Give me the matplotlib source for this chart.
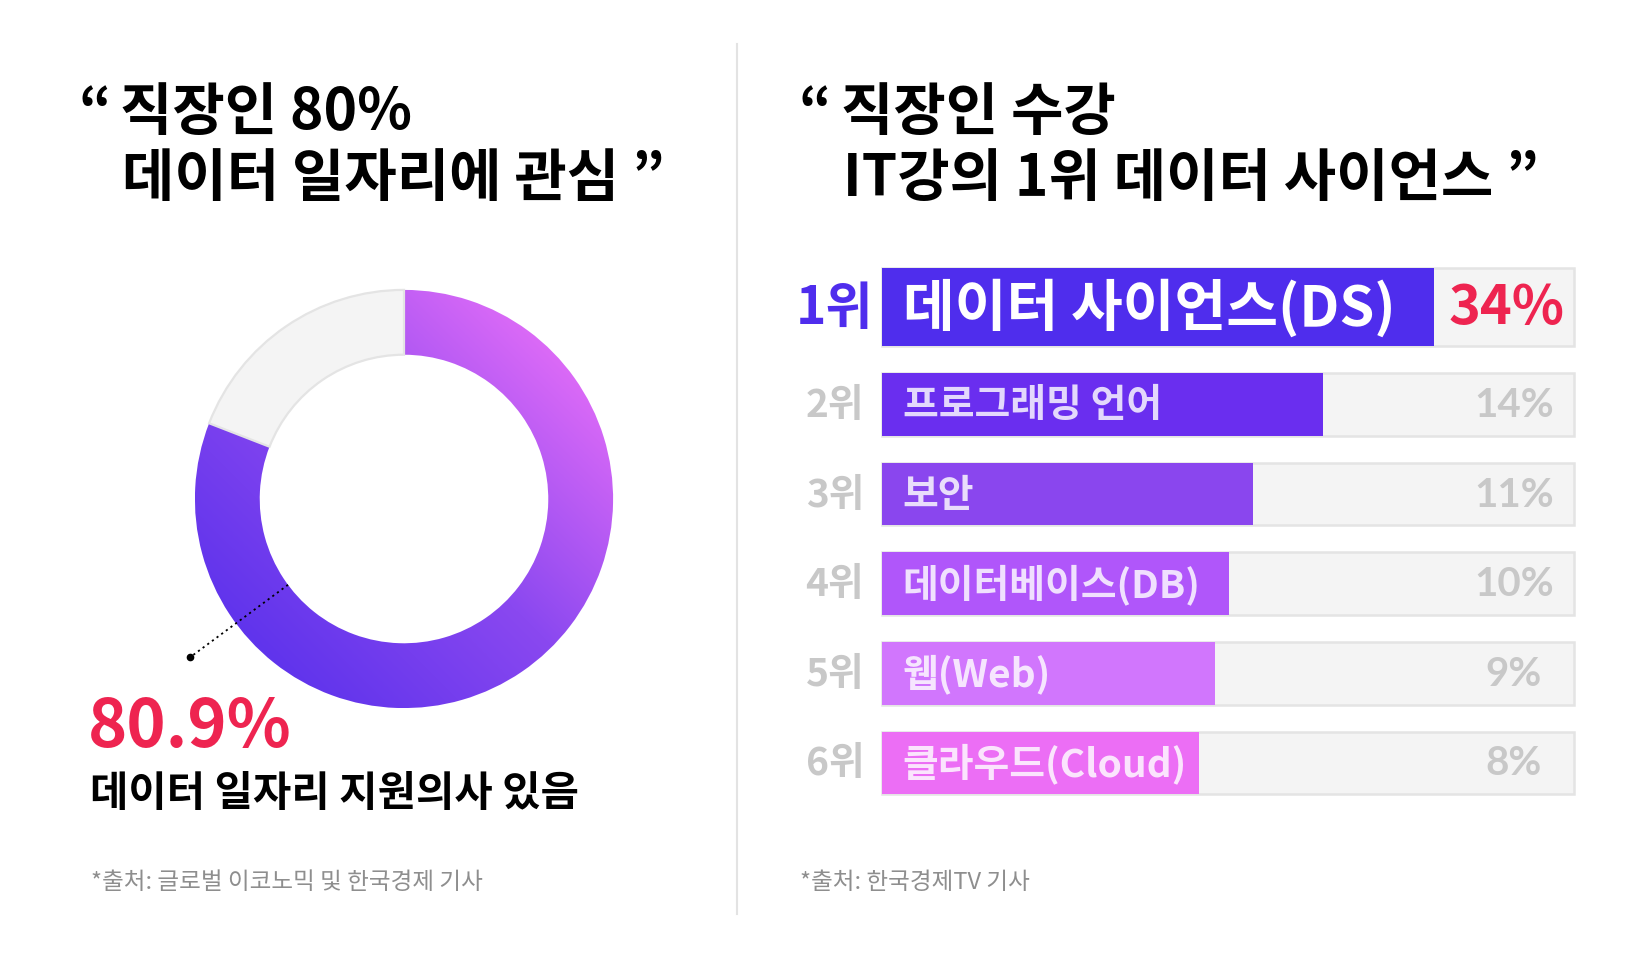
import numpy as np
import matplotlib.pyplot as plt
from matplotlib.colors import LinearSegmentedColormap
from matplotlib.lines import Line2D

plt.rcParams['font.family'] = ['Noto Sans CJK KR', 'DejaVu Sans']

# left panel: survey result
donut_vals = [80.9, 19.1]
donut_pct = '80.9%'
donut_caption = '데이터 일자리 지원의사 있음'
left_title = ['직장인 80%', '데이터 일자리에 관심 ”']
left_source = '*출처: 글로벌 이코노믹 및 한국경제 기사'

# right panel: course ranking
ranks = ['1위', '2위', '3위', '4위', '5위', '6위']
courses = ['데이터 사이언스(DS)', '프로그래밍 언어', '보안', '데이터베이스(DB)', '웹(Web)', '클라우드(Cloud)']
shares = [34, 14, 11, 10, 9, 8]
bar_len = [79.8, 63.7, 53.6, 50.1, 48.1, 45.8]  # drawn length, % of the grey track
bar_colors = ['#4f2ded', '#6a2eef', '#8a46ee', '#b056fa', '#d176fd', '#ec6ef5']
right_title = ['직장인 수강', 'IT강의 1위 데이터 사이언스 ”']
right_source = '*출처: 한국경제TV 기사'

W, H = 1650, 962
RED = '#ee2450'
fig = plt.figure(figsize=(W / 100, H / 100), dpi=100)
fig.patch.set_facecolor('white')


def px(x, y):
    return x / W, 1 - y / H


# titles
for qx, tx, lines in [(78, 120, left_title), (798, 841, right_title)]:
    fig.text(*px(qx, 130), '“', fontsize=41, fontweight='black', ha='left', va='baseline')
    fig.text(*px(tx, 130), lines[0], fontsize=41, fontweight='black', ha='left', va='baseline')
    fig.text(*px(tx + 2, 196), lines[1], fontsize=41, fontweight='black', ha='left', va='baseline')

# divider
fig.add_artist(Line2D([737 / W, 737 / W], [1 - 45 / H, 1 - 915 / H], color='#e3e3e3', lw=1.5))

# donut
axd = fig.add_axes([(404 - 230) / W, 1 - (500 + 230) / H, 460 / W, 460 / H])
wedges, _ = axd.pie(donut_vals, startangle=90, counterclock=False, radius=1,
                    wedgeprops=dict(width=0.31, linewidth=0))
axd.set_xlim(-1.1, 1.1)
axd.set_ylim(-1.1, 1.1)
axd.set_aspect('equal')
axd.axis('off')
wedges[0].set_facecolor('none')
wedges[1].set_facecolor('#f4f4f4')
wedges[1].set_edgecolor('#e4e4e4')
wedges[1].set_linewidth(1.6)

cmap = LinearSegmentedColormap.from_list('ring', ['#6034ec', '#8a48f0', '#db6af7'])
g = np.linspace(-1, 1, 500)
X, Y = np.meshgrid(g, g)
T = np.clip(((X + Y) / np.sqrt(2) + 1) / 2, 0, 1)
im = axd.imshow(T, extent=(-1, 1, -1, 1), origin='lower', cmap=cmap, vmin=0, vmax=1, zorder=0)
im.set_clip_path(wedges[0])

# leader from the ring to the label
ang = np.deg2rad(216.5)
r_in, r_out = 1 - 0.31, 1.273
axd.plot([r_in * np.cos(ang), r_out * np.cos(ang)], [r_in * np.sin(ang), r_out * np.sin(ang)],
         ls=(0, (1.2, 2)), color='black', lw=1.3, clip_on=False)
axd.plot([r_out * np.cos(ang)], [r_out * np.sin(ang)], 'o', ms=4.5, color='black', clip_on=False)

fig.text(*px(88, 747), donut_pct, fontsize=48, fontweight='black', color=RED, ha='left', va='baseline')
fig.text(*px(90, 806), donut_caption, fontsize=30, fontweight='bold', color='black', ha='left', va='baseline')
fig.text(*px(91, 889), left_source, fontsize=17, color='#8e8e8e', ha='left', va='baseline')

# ranking bars
axb = fig.add_axes([882 / W, 1 - 817.7 / H, 692 / W, (817.7 - 244.2) / H])
axb.set_xlim(0, 100)
axb.set_ylim(5.6, -0.8)
axb.axis('off')

idx = np.arange(len(ranks))
heights = np.array([0.87] + [0.70] * (len(ranks) - 1))
tops = idx + 0.35 - heights
centers = tops + heights / 2

axb.barh(tops, [100] * len(ranks), height=heights, align='edge', color='#f4f4f4',
         edgecolor='#e4e4e4', linewidth=1.8, clip_on=False, zorder=1)
axb.barh(tops, bar_len, height=heights, align='edge', color=bar_colors, linewidth=0,
         clip_on=False, zorder=2)

for i in idx:
    if i == 0:
        axb.text(-6.8, centers[i], ranks[i], fontsize=37, fontweight='bold', color='#4f2ded',
                 ha='center', va='center', clip_on=False)
        axb.text(3.0, centers[i], courses[i], fontsize=40.5, fontweight='bold', color='white',
                 ha='left', va='center', zorder=3)
        axb.text(90.3, centers[i], f'{shares[i]}%', fontsize=39, fontweight='black', color=RED,
                 ha='center', va='center', zorder=3)
    else:
        axb.text(-6.8, centers[i], ranks[i], fontsize=28, fontweight='bold', color='#c8c8c8',
                 ha='center', va='center', clip_on=False)
        axb.text(3.0, centers[i], courses[i], fontsize=28, fontweight='bold', color='white',
                 alpha=0.82, ha='left', va='center', zorder=3)
        axb.text(91.3, centers[i], f'{shares[i]}%', fontsize=29, fontweight='bold', color='#c8c8c8',
                 family=['Lato', 'DejaVu Sans'], ha='center', va='center', zorder=3)

fig.text(*px(800, 889), right_source, fontsize=17, color='#8e8e8e', ha='left', va='baseline')

fig.savefig('out.png', dpi=100, facecolor='white')
